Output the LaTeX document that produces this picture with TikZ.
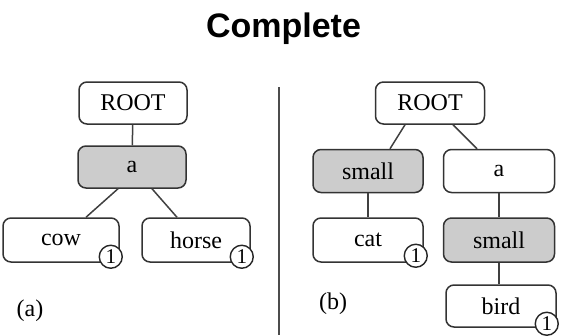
\documentclass[tikz,border=0pt]{standalone}
\usepackage{fontspec}
\setmainfont{Liberation Serif}
\newfontfamily\titlefont{Liberation Sans}
\tikzset{
  tbox/.style={draw=black!80,line width=1.5pt,rounded corners=8pt,fill=white,
    minimum height=42pt,inner sep=0pt,font=\fontsize{24}{26}\selectfont},
  gbox/.style={tbox,fill=black!20},
  cnt/.style={draw=black!85,line width=1.4pt,circle,fill=white,minimum size=23pt,
    inner sep=0pt,font=\fontsize{21}{22}\selectfont},
  link/.style={draw=black!75,line width=1.5pt},
}
\begin{document}
\begin{tikzpicture}[x=1pt,y=-1pt]
  \useasboundingbox (0,0) rectangle (564,335);

  \node[font=\titlefont\bfseries\fontsize{34}{38}\selectfont,anchor=base] (title) at (283.5,37) {Complete};

  % (a)
  \node[tbox,minimum width=108pt] (rootA) at (133,103) {ROOT};
  \node[gbox,minimum width=108pt] (aA) at (132,167) {a};
  \node[tbox,minimum width=116pt,minimum height=44pt] (cow) at (61,240) {cow};
  \node[tbox,minimum width=108pt,minimum height=44pt] (horse) at (196,240) {horse};
  \node[cnt] (cowN) at ([xshift=-9pt,yshift=6pt]cow.south east) {1};
  \node[cnt] (horseN) at ([xshift=-9pt,yshift=6pt]horse.south east) {1};
  \node[font=\fontsize{24}{26}\selectfont] (labA) at (30,311) {(a)};

  \draw[link] (rootA) -- (aA);
  \draw[link] ([xshift=-14pt]aA.south) -- ([xshift=25pt]cow.north);
  \draw[link] ([xshift=20pt]aA.south) -- ([xshift=-19pt]horse.north);

  % divider
  \coordinate (divTop) at (279,87);
  \coordinate (divBot) at (279,335);
  \draw[black!70,line width=1.6pt] (divTop) -- (divBot);

  % (b)
  \node[tbox,minimum width=109pt] (rootB) at (430,103) {ROOT};
  \node[gbox,minimum width=110pt,minimum height=43pt] (smallL) at (368,171) {small};
  \node[tbox,minimum width=111pt,minimum height=43pt] (aB) at (499,171) {a};
  \node[tbox,minimum width=110pt,minimum height=44pt] (cat) at (368,240) {cat};
  \node[gbox,minimum width=111pt,minimum height=44pt] (smallR) at (499,240) {small};
  \node[tbox,minimum width=110pt] (bird) at (501,306) {bird};
  \node[cnt] (catN) at ([xshift=-8pt,yshift=7pt]cat.south east) {1};
  \node[cnt] (birdN) at ([xshift=-10pt,yshift=4pt]bird.south east) {1};
  \node[font=\fontsize{24}{26}\selectfont] (labB) at (333,304) {(b)};

  \draw[link] ([xshift=-25pt]rootB.south) -- ([xshift=22pt]smallL.north);
  \draw[link] ([xshift=23pt]rootB.south) -- ([xshift=-22pt]aB.north);
  \draw[link] (smallL) -- (cat);
  \draw[link] (aB) -- (smallR);
  \draw[link] (smallR.south) -- (smallR.south |- bird.north);

\end{tikzpicture}
\end{document}
